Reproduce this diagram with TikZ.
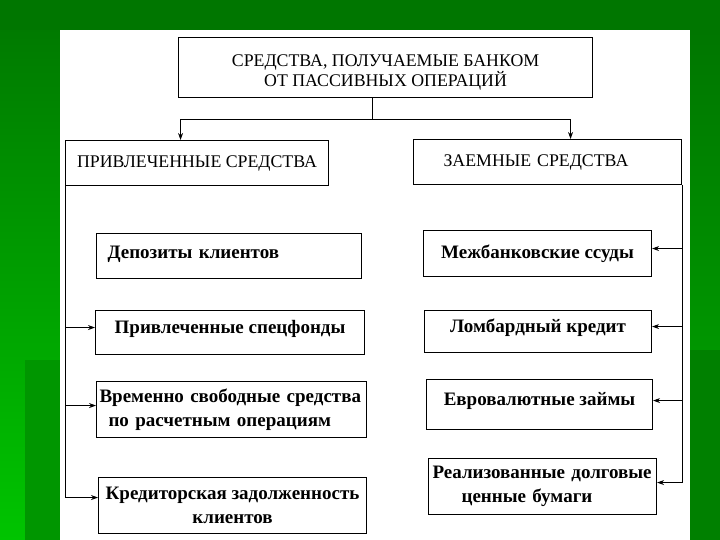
\documentclass[tikz,border=0pt]{standalone}
\usepackage{fontspec}
\setmainfont{Liberation Serif}
\usetikzlibrary{arrows.meta,positioning}
\definecolor{darkgreen}{RGB}{0,118,0}
\definecolor{brightgreen}{RGB}{0,196,0}
\definecolor{midgreen}{RGB}{0,150,0}
\tikzset{
  box/.style={draw, line width=1.1pt, anchor=north west, inner sep=0pt},
  headbox/.style={box, font=\fontsize{17.8}{20}\selectfont},
  itembox/.style={box, font=\bfseries\fontsize{19}{24}\selectfont},
  link/.style={line width=0.9pt},
  arr/.style={link, -{Stealth[length=7pt,width=5pt]}}
}
\begin{document}
\begin{tikzpicture}[x=1pt, y=-1pt]
			\useasboundingbox (0,0) rectangle (720,540);
			% background of the slide
			\shade[top color=darkgreen, bottom color=brightgreen] (0,0) rectangle (720,540);
			\fill[darkgreen] (0,0) rectangle (720,30);
			\fill[midgreen] (25,360) rectangle (60,540);
			\shade[top color=darkgreen, bottom color=midgreen] (690,30) rectangle (720,350);
			\fill[midgreen!85!black] (690,350) rectangle (720,540);
			\fill[white] (60,30) rectangle (690,540);
			
			\node[headbox, minimum width=414, minimum height=60, align=center, text height=41, text depth=4] (top) at (178,37)
				{СРЕДСТВА, ПОЛУЧАЕМЫЕ БАНКОМ\\ОТ ПАССИВНЫХ ОПЕРАЦИЙ};
			\node[headbox, minimum width=263, minimum height=45, align=center] (pr) at (65,140)
				{ПРИВЛЕЧЕННЫЕ СРЕДСТВА};
			\node[headbox, minimum width=268, minimum height=45, inner xsep=30, text width=208, align=left] (zm) at (413,139)
				{ЗАЕМНЫЕ СРЕДСТВА};
			
			\node[itembox, minimum width=265, minimum height=45, inner xsep=11, text width=243, align=left, text depth=8] (dep) at (96,233)
				{Депозиты клиентов};
			\node[itembox, minimum width=269, minimum height=44, align=center, text depth=12] (spec) at (95,310)
				{Привлеченные спецфонды};
			\node[itembox, minimum width=270, minimum height=56, inner xsep=3, text width=264, align=left] (vrem) at (96,381)
				{Временно свободные средства\\\hspace*{9pt}по расчетным операциям};
			\node[itembox, minimum width=268, minimum height=56, align=center] (kred) at (98,477)
				{Кредиторская задолженность\\клиентов};
			
			\node[itembox, minimum width=228, minimum height=46, align=center] (mezh) at (423,230)
				{Межбанковские ссуды};
			\node[itembox, minimum width=227, minimum height=42, align=center, text depth=12] (lomb) at (424,310)
				{Ломбардный кредит};
			\node[itembox, minimum width=226, minimum height=50, align=center, text depth=12] (evro) at (426,379)
				{Евровалютные займы};
			\node[itembox, minimum width=228, minimum height=56, inner xsep=4, text width=220, align=left] (real) at (428,458)
				{Реализованные долговые\\\hspace*{29pt}ценные бумаги};
			
			\coordinate (split) at ([xshift=-13pt, yshift=-21pt]top.south);
			\coordinate (prin) at ([xshift=-16.5pt]pr.north);
			\coordinate (zmin) at ([xshift=23pt]zm.north);
			\draw[link] (top.south -| split) -- (split);
			\draw[arr] (split) -| (prin);
			\draw[arr] (split) -| (zmin);
			
			\coordinate (spin) at ([yshift=5pt]spec.west);
			\coordinate (vrin) at ([yshift=4pt]vrem.west);
			\coordinate (krin) at ([yshift=8pt]kred.west);
			\draw[link] (pr.south west) -- (krin -| pr.south west);
			\draw[arr] (spin -| pr.west) -- (spin);
			\draw[arr] (vrin -| pr.west) -- (vrin);
			\draw[arr] (krin -| pr.west) -- (krin);
			
			\coordinate (rv) at (zm.south east);
			\coordinate (mzin) at ([yshift=5pt]mezh.east);
			\coordinate (lbin) at ([yshift=5pt]lomb.east);
			\coordinate (evin) at ([yshift=4pt]evro.east);
			\coordinate (rlin) at ([yshift=4pt]real.east);
			\draw[link] (rv) -- (rlin -| rv);
			\draw[arr] (mzin -| rv) -- (mzin);
			\draw[arr] (lbin -| rv) -- (lbin);
			\draw[arr] (evin -| rv) -- (evin);
			\draw[arr] (rlin -| rv) -- (rlin);
			
		\end{tikzpicture}
\end{document}
